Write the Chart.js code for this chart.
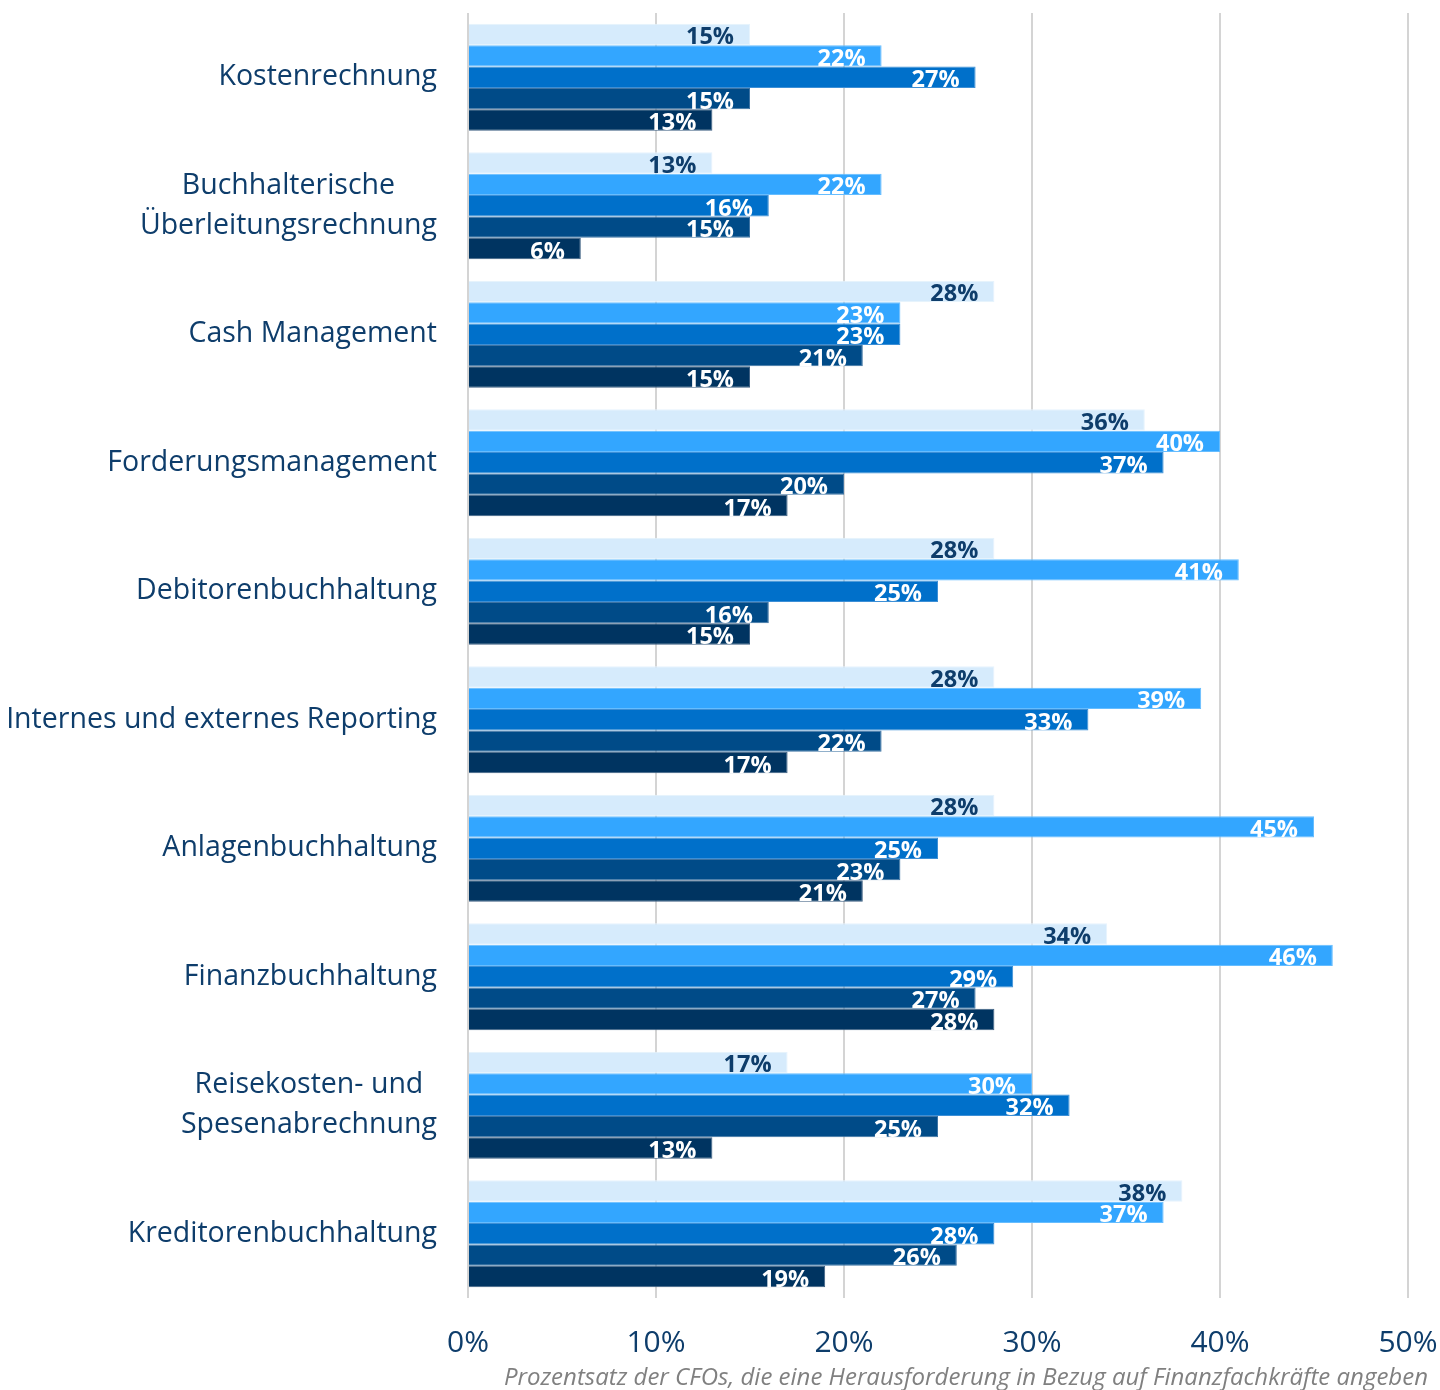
<!DOCTYPE html>
<html>
<head>
<meta charset="utf-8">
<script src="https://cdn.jsdelivr.net/npm/chart.js@4.4.1/dist/chart.umd.min.js"></script>
<style>
  html, body { margin: 0; padding: 0; background: #fff; }
  #wrap { width: 1440px; height: 1390px; }
</style>
</head>
<body>
<div id="wrap"><canvas id="barChart"></canvas></div>
<script>
var categories = [
    'Kostenrechnung',
    ['Buchhalterische', 'Überleitungsrechnung'],
    'Cash Management',
    'Forderungsmanagement',
    'Debitorenbuchhaltung',
    'Internes und externes Reporting',
    'Anlagenbuchhaltung',
    'Finanzbuchhaltung',
    ['Reisekosten- und', 'Spesenabrechnung'],
    'Kreditorenbuchhaltung'
];
var reihe1 = [15, 13, 28, 36, 28, 28, 28, 34, 17, 38];
var reihe2 = [22, 22, 23, 40, 41, 39, 45, 46, 30, 37];
var reihe3 = [27, 16, 23, 37, 25, 33, 25, 29, 32, 28];
var reihe4 = [15, 15, 21, 20, 16, 22, 23, 27, 25, 26];
var reihe5 = [13, 6, 15, 17, 15, 17, 21, 28, 13, 19];
var xTicks = [0, 10, 20, 30, 40, 50];
var achsenTitel = 'Prozentsatz der CFOs, die eine Herausforderung in Bezug auf Finanzfachkräfte angeben';

var textBlau = '#0E3D6B';
var farben = ['#D6EBFC', '#33A6FF', '#0070CA', '#004B88', '#003461'];
var randFarben = ['#E6F3FD', '#66BDFF', '#3D8FD6', '#3D73A3', '#3D5F82'];
var labelFarben = ['#0E3D6B', '#ffffff', '#ffffff', '#ffffff', '#ffffff'];

function makeDataset(name, data, i) {
    return {
        label: name,
        data: data,
        backgroundColor: farben[i],
        borderColor: randFarben[i],
        borderWidth: 1,
        barPercentage: 1,
        categoryPercentage: 0.833
    };
}

// Werte an das Balkenende schreiben
var wertePlugin = {
    id: 'werte',
    afterDatasetsDraw: function (chart) {
        var ctx = chart.ctx;
        ctx.save();
        ctx.font = 'bold 23.5px "Open Sans"';
        ctx.textAlign = 'right';
        ctx.textBaseline = 'alphabetic';
        chart.data.datasets.forEach(function (ds, di) {
            var meta = chart.getDatasetMeta(di);
            ctx.fillStyle = labelFarben[di];
            meta.data.forEach(function (bar, i) {
                ctx.fillText(ds.data[i] + '%', bar.x - 16, bar.y + 10);
            });
        });
        ctx.restore();
    }
};

// Kategorien: Block rechtsbündig, Zeilen zentriert
var kategorienPlugin = {
    id: 'kategorien',
    afterDraw: function (chart) {
        var ctx = chart.ctx;
        var yScale = chart.scales.y;
        var rechts = chart.chartArea.left - 31;
        var zeilenHoehe = 40;
        ctx.save();
        ctx.font = '28.5px "Open Sans"';
        ctx.fillStyle = textBlau;
        ctx.textAlign = 'center';
        ctx.textBaseline = 'middle';
        categories.forEach(function (cat, i) {
            var zeilen = Array.isArray(cat) ? cat : [cat];
            var breite = 0;
            zeilen.forEach(function (z) { breite = Math.max(breite, ctx.measureText(z).width); });
            var mitteX = rechts - breite / 2;
            var mitteY = yScale.getPixelForTick(i);
            var startY = mitteY - (zeilen.length - 1) * zeilenHoehe / 2;
            zeilen.forEach(function (z, k) {
                ctx.fillText(z, mitteX, startY + k * zeilenHoehe);
            });
        });
        ctx.restore();
    }
};

var ctx = document.getElementById('barChart').getContext('2d');
var barChart = new Chart(ctx, {
    type: 'bar',
    data: {
        labels: categories,
        datasets: [
            makeDataset('Reihe 1', reihe1, 0),
            makeDataset('Reihe 2', reihe2, 1),
            makeDataset('Reihe 3', reihe3, 2),
            makeDataset('Reihe 4', reihe4, 3),
            makeDataset('Reihe 5', reihe5, 4)
        ]
    },
    options: {
        indexAxis: 'y',
        responsive: true,
        maintainAspectRatio: false,
        animation: false,
        layout: { padding: { top: 13, right: 12, left: 0, bottom: 0 } },
        plugins: {
            legend: { display: false },
            tooltip: { enabled: false },
            title: {
                display: true,
                position: 'bottom',
                align: 'end',
                text: achsenTitel,
                color: '#808080',
                font: { family: 'Open Sans', size: 24, style: 'italic', weight: 'normal', lineHeight: 1.0 },
                padding: { top: 0, bottom: 0 }
            }
        },
        scales: {
            x: {
                min: xTicks[0],
                max: xTicks[xTicks.length - 1],
                afterBuildTicks: function (scale) {
                    scale.ticks = xTicks.map(function (v) { return { value: v }; });
                },
                afterFit: function (scale) {
                    scale.height = 92 - 24;
                    scale.paddingLeft = 0;
                    scale.paddingRight = 32;
                },
                grid: { color: '#D4D4D4', lineWidth: 2, drawTicks: false },
                border: { display: false },
                ticks: {
                    color: textBlau,
                    font: { family: 'Open Sans', size: 30 },
                    padding: 27,
                    maxRotation: 0,
                    callback: function (value) { return value + '%'; }
                }
            },
            y: {
                afterFit: function (scale) { scale.width = 468; },
                grid: { display: false },
                border: { display: false },
                ticks: { display: false }
            }
        }
    },
    plugins: [wertePlugin, kategorienPlugin]
});
</script>
</body>
</html>
